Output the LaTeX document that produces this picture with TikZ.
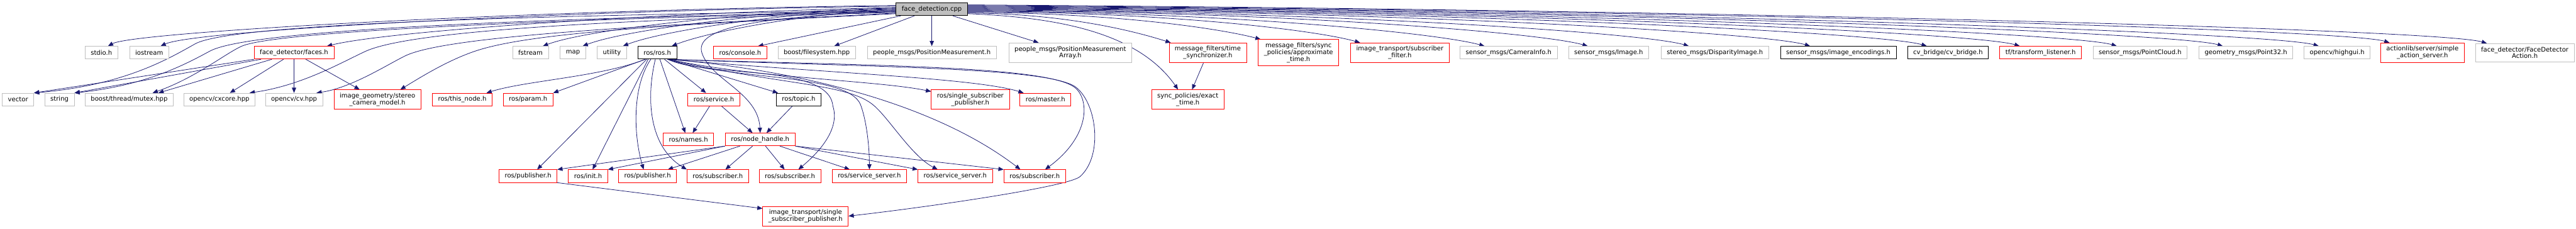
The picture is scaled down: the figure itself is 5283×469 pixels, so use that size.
\documentclass[tikz,border=0pt]{standalone}
\usepackage{fontspec}
\setmainfont{DejaVu Sans}
\usetikzlibrary{arrows.meta,backgrounds}
\definecolor{edgeblue}{HTML}{191970}
\definecolor{boxgray}{HTML}{BFBFBF}
\tikzset{
  incbox/.style={draw,rectangle,line width=0.75pt,inner xsep=8.8pt,inner ysep=4.9pt,minimum height=19.5pt,align=center,fill=white,font=\fontsize{9.73}{10.5}\selectfont},
  sysbox/.style={incbox,draw=boxgray},
  cutbox/.style={incbox,draw=red},
  fullbox/.style={incbox,draw=black},
  srcbox/.style={incbox,draw=black,fill=boxgray},
  incl/.style={-{Triangle[length=8pt,width=6.5pt]},color=edgeblue,line width=0.75pt}
}

\begin{document}
\begin{tikzpicture}[x=0.75pt,y=-0.75pt]
  \useasboundingbox (0,0) rectangle (5283,469);
  % Source file
  \node[srcbox] (root) at (1911,19) {face\_detection.cpp};

  % Direct includes
  \node[sysbox] (stdio) at (208,108) {stdio.h};
  \node[sysbox] (iostr) at (306,108) {iostream};
  \node[cutbox] (faces) at (603,108) {face\_detector/faces.h};
  \node[sysbox] (fstrm) at (1088,108) {fstream};
  \node[sysbox] (mapinc) at (1175,108) {map};
  \node[sysbox] (util) at (1255,108) {utility};
  \node[fullbox] (rosh) at (1348,108) {ros/ros.h};
  \node[cutbox] (consl) at (1518,108) {ros/console.h};
  \node[sysbox] (fsys) at (1675,108) {boost/filesystem.hpp};
  \node[sysbox] (pmeas) at (1911,108) {people\_msgs/PositionMeasurement.h};
  \node[sysbox] (parr) at (2195,108) {people\_msgs/PositionMeasurement\\Array.h};
  \node[cutbox] (tsync) at (2477,108) {message\_filters/time\\\_synchronizer.h};
  \node[cutbox] (apprx) at (2663,108) {message\_filters/sync\\\_policies/approximate\\\_time.h};
  \node[cutbox] (subflt) at (2871,108) {image\_transport/subscriber\\\_filter.h};
  \node[sysbox] (caminf) at (3094,108) {sensor\_msgs/CameraInfo.h};
  \node[sysbox] (image) at (3299,108) {sensor\_msgs/Image.h};
  \node[sysbox] (disp) at (3517,108) {stereo\_msgs/DisparityImage.h};
  \node[fullbox] (enc) at (3770,108) {sensor\_msgs/image\_encodings.h};
  \node[fullbox] (cvb) at (3995,108) {cv\_bridge/cv\_bridge.h};
  \node[cutbox] (tfl) at (4185,108) {tf/transform\_listener.h};
  \node[sysbox] (pcl) at (4389,108) {sensor\_msgs/PointCloud.h};
  \node[sysbox] (pt32) at (4606,108) {geometry\_msgs/Point32.h};
  \node[sysbox] (hgui) at (4793,108) {opencv/highgui.h};
  \node[cutbox] (sas) at (4968,108) {actionlib/server/simple\\\_action\_server.h};
  \node[sysbox] (fda) at (5178,108) {face\_detector/FaceDetector\\Action.h};

  % Second level
  \node[sysbox] (vec) at (37,204) {vector};
  \node[sysbox] (str) at (122,204) {string};
  \node[sysbox] (mutex) at (265,204) {boost/thread/mutex.hpp};
  \node[sysbox] (cxcore) at (450,204) {opencv/cxcore.hpp};
  \node[sysbox] (cvhpp) at (603,204) {opencv/cv.hpp};
  \node[cutbox] (stereo) at (774,204) {image\_geometry/stereo\\\_camera\_model.h};
  \node[cutbox] (thisn) at (948,204) {ros/this\_node.h};
  \node[cutbox] (param) at (1083,204) {ros/param.h};
  \node[cutbox] (srv) at (1464,204) {ros/service.h};
  \node[fullbox] (topic) at (1638,204) {ros/topic.h};
  \node[cutbox] (ssp) at (1990,204) {ros/single\_subscriber\\\_publisher.h};
  \node[cutbox] (master) at (2144,204) {ros/master.h};
  \node[cutbox] (exact) at (2436,204) {sync\_policies/exact\\\_time.h};

  % Third level
  \node[cutbox] (names) at (1412,286) {ros/names.h};
  \node[cutbox] (nh) at (1559,286) {ros/node\_handle.h};

  % Fourth level
  \node[cutbox] (pub1) at (1083,361) {ros/publisher.h};
  \node[cutbox] (init) at (1206,361) {ros/init.h};
  \node[cutbox] (pub2) at (1328,361) {ros/publisher.h};
  \node[cutbox] (sub1) at (1472,361) {ros/subscriber.h};
  \node[cutbox] (sub2) at (1620,361) {ros/subscriber.h};
  \node[cutbox] (ss1) at (1783,361) {ros/service\_server.h};
  \node[cutbox] (ss2) at (1959,361) {ros/service\_server.h};
  \node[cutbox] (sub3) at (2122,361) {ros/subscriber.h};
  \node[cutbox] (itssp) at (1652,443) {image\_transport/single\\\_subscriber\_publisher.h};

  \begin{scope}[on background layer]
  % Source file, left side
  \draw[incl] (root.174) .. controls (1100,20) and (275,65) .. (stdio.45);
  \draw[incl] (root.175) .. controls (1150,22) and (400,62) .. (iostr.30);
  \draw[incl] (root.177) .. controls (1300,28) and (790,65) .. ([xshift=-11pt]faces.north east);
  \draw[incl] (root.178) .. controls (1500,25) and (1200,62) .. ([xshift=-9pt]fstrm.north east);
  \draw[incl] (root.179) .. controls (1560,24) and (1280,62) .. ([xshift=-5pt]mapinc.north east);
  \draw[incl] (root.180) .. controls (1620,24) and (1360,62) .. ([xshift=-6pt]util.north east);
  \draw[incl] (root.181) .. controls (1680,24) and (1460,62) .. ([xshift=-8pt]rosh.north east);
  \draw[incl] (root) -- ([xshift=-14pt]consl.north east);
  \draw[incl] (root) -- (fsys);
  \draw[incl] (root) -- (pmeas);
  \draw[incl] (root) -- (parr);
  \draw[incl] (root.182) .. controls (1200,30) and (480,45) .. (400,90) .. controls (340,124) and (250,175) .. (vec.north east);
  \draw[incl] (root.183) .. controls (1250,35) and (520,55) .. (430,105) .. controls (380,132) and (300,175) .. (str.north east);
  \draw[incl] (root.184) .. controls (1100,40) and (560,65) .. (495,95) .. controls (462,110) and (400,160) .. ([xshift=36pt]mutex.north);
  \draw[incl] (root.185) .. controls (1300,40) and (850,60) .. (750,105) .. controls (700,128) and (620,175) .. ([xshift=-9pt]cxcore.north east);
  \draw[incl] (root.186) .. controls (1400,50) and (920,70) .. (830,115) .. controls (790,135) and (720,180) .. ([xshift=-10pt]cvhpp.north east);
  \draw[incl] (root.187) .. controls (1400,50) and (1100,65) .. (980,103) .. controls (920,122) and (860,160) .. ([xshift=-32pt]stereo.north east);
  \draw[incl] (root.183) .. controls (1560,35) and (1420,55) .. (1440,110) .. controls (1460,165) and (1555,190) .. (nh.north);

  % Source file, right side
  \draw[incl] (root.-7) .. controls (2150,35) and (2330,60) .. ([xshift=-15pt]exact.north);
  \draw[incl] (root.-6) .. controls (2190,28) and (2330,65) .. ([xshift=3pt]tsync.north west);
  \draw[incl] (root.-5) .. controls (2280,26) and (2500,58) .. ([xshift=4pt]apprx.north west);
  \draw[incl] (root.-4) .. controls (2390,24) and (2700,62) .. ([xshift=15pt]subflt.north west);
  \draw[incl] (root.-3) .. controls (2510,24) and (2950,68) .. ([xshift=38pt]caminf.north west);
  \draw[incl] (root.-2) .. controls (2620,23) and (3160,67) .. ([xshift=30pt]image.north west);
  \draw[incl] (root.-1) .. controls (2720,23) and (3370,67) .. ([xshift=43pt]disp.north west);
  \draw[incl] (root.0) .. controls (2850,22) and (3620,67) .. ([xshift=46pt]enc.north west);
  \draw[incl] (root.1) .. controls (2970,22) and (3860,67) .. ([xshift=30pt]cvb.north west);
  \draw[incl] (root.2) .. controls (3060,21) and (4050,67) .. ([xshift=31pt]tfl.north west);
  \draw[incl] (root.3) .. controls (3160,21) and (4250,67) .. ([xshift=37pt]pcl.north west);
  \draw[incl] (root.4) .. controls (3270,20) and (4465,67) .. ([xshift=37pt]pt32.north west);
  \draw[incl] (root.5) .. controls (3370,20) and (4660,67) .. ([xshift=23pt]hgui.north west);
  \draw[incl] (root.6) .. controls (3440,20) and (4810,60) .. ([xshift=14pt]sas.north west);
  \draw[incl] (root.7) .. controls (3540,20) and (5005,60) .. ([xshift=18pt]fda.north west);

  % face_detector/faces.h
  \draw[incl] (faces.south west) -- (vec.north east);
  \draw[incl] ([xshift=11pt]faces.south west) -- (str.north east);
  \draw[incl] ([xshift=-34pt]faces.south) -- ([xshift=45pt]mutex.north);
  \draw[incl] (faces) -- (cxcore);
  \draw[incl] (faces) -- (cvhpp);
  \draw[incl] (faces) -- (stereo);

  % ros/ros.h
  \draw[incl] ([xshift=12pt]rosh.south west) .. controls (1230,158) and (1080,165) .. ([xshift=-9pt]thisn.north east);
  \draw[incl] ([xshift=12pt]rosh.south west) -- (param.north east);
  \draw[incl] ([xshift=14pt]rosh.south west) -- ([xshift=14pt]pub1.north);
  \draw[incl] ([xshift=-14pt]rosh.south) -- ([xshift=7pt]init.north);
  \draw[incl] ([xshift=-10pt]rosh.south) .. controls (1295,180) and (1300,280) .. ([xshift=-6pt]pub2.north);
  \draw[incl] ([xshift=-3pt]rosh.south) .. controls (1325,200) and (1330,300) .. (sub1.north west);
  \draw[incl] ([xshift=4pt]rosh.south) -- ([xshift=-5pt]names.north);
  \draw[incl] ([xshift=11pt]rosh.south) -- ([xshift=-12pt]srv.north);
  \draw[incl] ([xshift=16pt]rosh.south) -- ([xshift=3pt]topic.north west);
  \draw[incl] ([xshift=16pt]rosh.south) .. controls (1450,160) and (1700,130) .. (1708,217) .. controls (1725,269) and (1670,320) .. ([xshift=13pt]sub2.north);
  \draw[incl] ([xshift=16pt]rosh.south) .. controls (1500,165) and (1740,150) .. (1765,215) .. controls (1777,247) and (1783,300) .. (ss1.north);
  \draw[incl] ([xshift=16pt]rosh.south) .. controls (1600,175) and (1740,170) .. (1793,217) .. controls (1825,245) and (1870,320) .. ([xshift=-27pt]ss2.north);
  \draw[incl] ([xshift=16pt]rosh.south) .. controls (1600,140) and (1900,200) .. ([xshift=-22pt]sub3.north);
  \draw[incl] ([xshift=16pt]rosh.south) .. controls (1550,160) and (1800,165) .. ([yshift=-3pt]ssp.north west);
  \draw[incl] ([xshift=16pt]rosh.south) .. controls (1700,150) and (2000,160) .. ([xshift=6pt]master.north west);
  \draw[incl] ([xshift=16pt]rosh.south) .. controls (1800,135) and (2150,135) .. (2205,180) .. controls (2235,205) and (2235,280) .. ([xshift=16pt]sub3.north);
  \draw[incl] ([xshift=16pt]rosh.south) .. controls (1800,138) and (2160,138) .. (2208,180) .. controls (2250,215) and (2262,320) .. (2215,362) .. controls (2191,383) and (1900,425) .. (itssp.east);

  % ros/service.h, ros/topic.h
  \draw[incl] (srv) -- (names);
  \draw[incl] (srv) -- (nh);
  \draw[incl] (topic) -- (nh);

  % ros/node_handle.h
  \draw[incl] (nh.south west) -- (pub1.north east);
  \draw[incl] (nh.south west) -- (init.north east);
  \draw[incl] (nh) -- (pub2);
  \draw[incl] (nh) -- (sub1);
  \draw[incl] (nh) -- (sub2);
  \draw[incl] (nh) -- (ss1);
  \draw[incl] (nh.south east) -- (ss2.north west);
  \draw[incl] (nh.south east) -- (sub3.north west);

  % remaining
  \draw[incl] (pub1.south east) -- (itssp.170);
  \draw[incl] (tsync) -- (exact);
  \end{scope}
\end{tikzpicture}
\end{document}
